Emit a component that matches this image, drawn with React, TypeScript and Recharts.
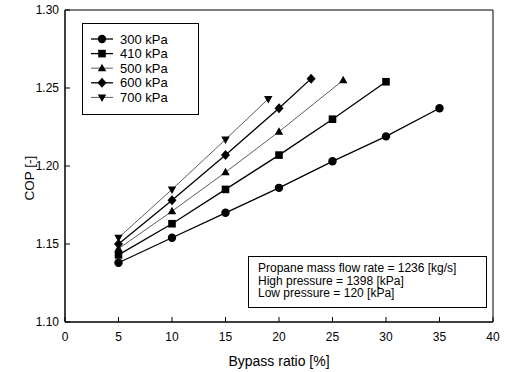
import React from 'react';
import { LineChart, Line, XAxis, YAxis, ReferenceArea } from 'recharts';

const seriesNames = ['300 kPa', '410 kPa', '500 kPa', '600 kPa', '700 kPa'];
const shapes = ['circle', 'square', 'triangle', 'diamond', 'triangleDown'];

const x300 = [5, 10, 15, 20, 25, 30, 35];
const y300 = [1.138, 1.154, 1.170, 1.186, 1.203, 1.219, 1.237];
const x410 = [5, 10, 15, 20, 25, 30];
const y410 = [1.143, 1.163, 1.185, 1.207, 1.230, 1.254];
const x500 = [5, 10, 15, 20, 26];
const y500 = [1.147, 1.171, 1.196, 1.222, 1.255];
const x600 = [5, 10, 15, 20, 23];
const y600 = [1.150, 1.178, 1.207, 1.237, 1.256];
const x700 = [5, 10, 15, 19];
const y700 = [1.154, 1.185, 1.217, 1.243];

const xTicks = [0, 5, 10, 15, 20, 25, 30, 35, 40];
const yTicks = [1.1, 1.15, 1.2, 1.25, 1.3];

const annotationLines = [
  'Propane mass flow rate = 1236 [kg/s]',
  'High pressure = 1398 [kPa]',
  'Low pressure = 120 [kPa]',
];

const toData = (xs: number[], ys: number[]) => xs.map((x, i) => ({ x, y: ys[i] }));
const seriesData = [
  toData(x300, y300),
  toData(x410, y410),
  toData(x500, y500),
  toData(x600, y600),
  toData(x700, y700),
];
const strokeWidths = [1.3, 1.3, 0.8, 1.3, 0.8];
const strokeColors = ['#000', '#000', '#333', '#000', '#333'];

const FONT = '"Liberation Sans", Arial, sans-serif';

function Marker({ shape, cx, cy }: { shape: string; cx: number; cy: number }) {
  if (cx == null || cy == null) return null;
  switch (shape) {
    case 'circle':
      return <circle cx={cx} cy={cy} r={4.2} fill="#000" />;
    case 'square':
      return <rect x={cx - 3.8} y={cy - 3.8} width={7.6} height={7.6} fill="#000" />;
    case 'triangle':
      return <polygon points={`${cx},${cy - 4.5} ${cx + 4.2},${cy + 3} ${cx - 4.2},${cy + 3}`} fill="#000" />;
    case 'diamond':
      return <polygon points={`${cx},${cy - 5} ${cx + 4.5},${cy} ${cx},${cy + 5} ${cx - 4.5},${cy}`} fill="#000" />;
    case 'triangleDown':
      return <polygon points={`${cx},${cy + 4.5} ${cx + 4.2},${cy - 3} ${cx - 4.2},${cy - 3}`} fill="#000" />;
    default:
      return null;
  }
}

const XTick = (props: any) => {
  const { x, y, payload } = props;
  return (
    <g>
      <line x1={x} x2={x} y1={y} y2={y - 5} stroke="#000" strokeWidth={1} />
      <text x={x} y={y + 19} textAnchor="middle" fontSize={12} fill="#000" fontFamily={FONT}>
        {payload.value}
      </text>
    </g>
  );
};

const YTick = (props: any) => {
  const { x, y, payload } = props;
  return (
    <g>
      <line x1={x} x2={x + 5} y1={y} y2={y} stroke="#000" strokeWidth={1} />
      <text x={x - 6} y={y + 4} textAnchor="end" fontSize={12} fill="#000" fontFamily={FONT}>
        {Number(payload.value).toFixed(2)}
      </text>
    </g>
  );
};

const LegendBox = () => (
  <div
    style={{
      position: 'absolute',
      left: 82,
      top: 23,
      border: '1px solid #000',
      width: 117,
      height: 92,
      boxSizing: 'border-box',
      background: '#fff',
      fontFamily: FONT,
    }}
  >
    <svg width={115} height={90} style={{ display: 'block' }}>
      {seriesNames.map((name, i) => {
        const cy = 15 + i * 14.6;
        return (
          <g key={name}>
            <line x1={8} x2={30} y1={cy} y2={cy} stroke={strokeColors[i]} strokeWidth={strokeWidths[i]} />
            <Marker shape={shapes[i]} cx={19} cy={cy} />
            <text x={37} y={cy + 4.5} fontSize={13} fill="#000" fontFamily={FONT}>
              {name}
            </text>
          </g>
        );
      })}
    </svg>
  </div>
);

export default function App() {
  return (
    <div style={{ position: 'absolute', left: 0, top: 0, width: 508, height: 372, background: '#fff', fontFamily: FONT }}>
      <LineChart width={508} height={372} margin={{ top: 10, right: 15, left: 0, bottom: 0 }}>
        <XAxis
          dataKey="x"
          type="number"
          domain={[0, 40]}
          ticks={xTicks}
          allowDataOverflow
          height={50}
          tickSize={0}
          tickMargin={0}
          tickLine={false}
          tick={<XTick />}
          axisLine={{ stroke: '#000' }}
          label={() => (
            <text x={279} y={366} textAnchor="middle" fontSize={14} fill="#000" fontFamily={FONT}>
              Bypass ratio [%]
            </text>
          )}
        />
        <YAxis
          dataKey="y"
          type="number"
          domain={[1.1, 1.3]}
          ticks={yTicks}
          allowDataOverflow
          width={65}
          tickSize={0}
          tickMargin={0}
          tickLine={false}
          tick={<YTick />}
          axisLine={{ stroke: '#000' }}
          label={() => (
            <text x={34} y={178} transform="rotate(-90 34 178)" textAnchor="middle" fontSize={13.5} fill="#000" fontFamily={FONT}>
              COP [-]
            </text>
          )}
        />
        <ReferenceArea x1={0} x2={40} y1={1.1} y2={1.3} fill="none" stroke="#000" strokeWidth={1} />
        {seriesData.map((d, i) => (
          <Line
            key={seriesNames[i]}
            data={d}
            dataKey="y"
            name={seriesNames[i]}
            stroke={strokeColors[i]}
            strokeWidth={strokeWidths[i]}
            isAnimationActive={false}
            dot={(p: any) => <Marker key={`${i}-${p.index}`} shape={shapes[i]} cx={p.cx} cy={p.cy} />}
            activeDot={false}
          />
        ))}
      </LineChart>
      <LegendBox />
      <div
        style={{
          position: 'absolute',
          left: 248,
          top: 256,
          width: 239,
          height: 52,
          boxSizing: 'border-box',
          border: '1px solid #000',
          background: '#fff',
          padding: '5px 0 0 9px',
          fontSize: 12,
          lineHeight: '12.5px',
          color: '#000',
          fontFamily: FONT,
          whiteSpace: 'nowrap',
        }}
      >
        {annotationLines.map((t) => (
          <div key={t}>{t}</div>
        ))}
      </div>
    </div>
  );
}
